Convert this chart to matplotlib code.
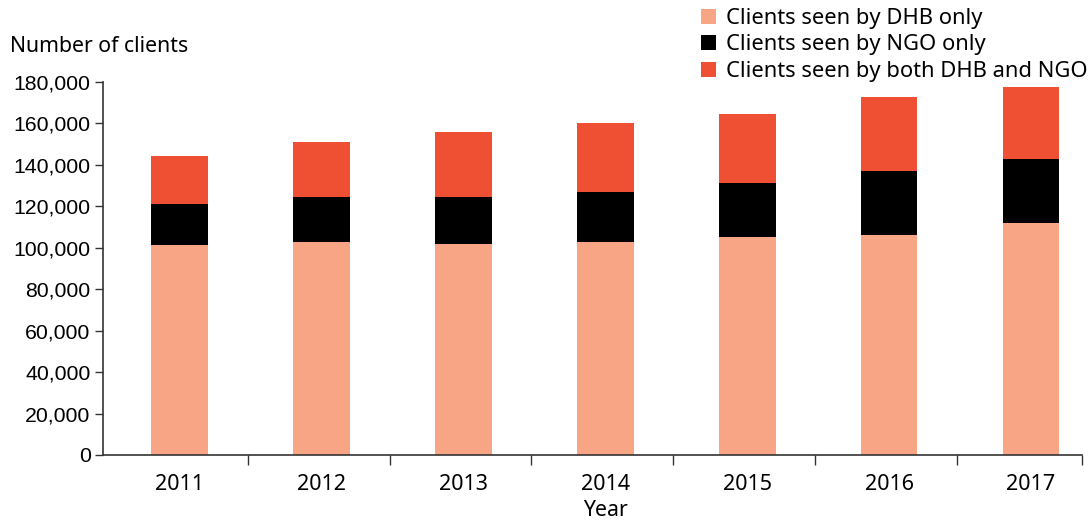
import matplotlib
matplotlib.use("Agg")
from matplotlib import pyplot as plt
from matplotlib.patches import Patch
from matplotlib.ticker import FuncFormatter

# datos
anios = ["2011", "2012", "2013", "2014", "2015", "2016", "2017"]
solo_dhb = [101400, 102800, 101800, 102800, 105200, 106200, 112000]
solo_ngo = [19900, 21700, 22700, 24100, 26100, 30900, 30900]
ambos = [23100, 26600, 31400, 33300, 33300, 35700, 34700]

etiquetas = ["Clients seen by DHB only", "Clients seen by NGO only",
             "Clients seen by both DHB and NGO"]
colores = ["#F7A584", "#000000", "#EF5033"]

fig = plt.figure(figsize=(10.92, 5.2), dpi=100)
ax = fig.add_axes([103 / 1092, 1 - 455 / 520, (1082 - 103) / 1092, (455 - 82) / 520])

x = list(range(len(anios)))
base2 = [a + b for a, b in zip(solo_dhb, solo_ngo)]
ax.bar(x, solo_dhb, width=0.4, color=colores[0])
ax.bar(x, solo_ngo, width=0.4, bottom=solo_dhb, color=colores[1])
ax.bar(x, ambos, width=0.4, bottom=base2, color=colores[2])

ax.set_xlim(-0.54, 6.36)
ax.set_ylim(0, 180000)
ax.set_yticks(range(0, 180001, 20000))
ax.yaxis.set_major_formatter(FuncFormatter(lambda v, p: f"{int(v):,}"))

ax.set_xticks(x)
ax.set_xticklabels(anios, fontfamily="Noto Sans", fontsize=15.5)
ax.set_xticks([i + 0.48 for i in range(6)] + [6.36], minor=True)
ax.tick_params(axis="x", which="major", length=0, pad=14)
ax.tick_params(axis="x", which="minor", length=7, width=1, color="#333333")
ax.tick_params(axis="y", length=6, width=1, color="#333333", labelsize=15.3, pad=3)
for t in ax.get_yticklabels():
    t.set_fontfamily("Liberation Sans")

for s in ["top", "right"]:
    ax.spines[s].set_visible(False)
for s in ["left", "bottom"]:
    ax.spines[s].set_color("#333333")
    ax.spines[s].set_linewidth(1.2)

fig.text(10 / 1092, 1 - 47 / 520, "Number of clients", fontfamily="Noto Sans",
         fontsize=15.3, va="center", ha="left")
fig.text(605 / 1092, 1 - 510 / 520, "Year", fontfamily="Noto Sans",
         fontsize=15.3, va="center", ha="center")

handles = [Patch(facecolor=c) for c in colores]
fig.legend(handles, etiquetas, loc="upper left", bbox_to_anchor=(701 / 1092, 1 - 8 / 520),
           frameon=False, prop={"family": "Noto Sans", "size": 15.8},
           handlelength=0.7, handleheight=0.7, handletextpad=0.45, labelspacing=0.25,
           borderaxespad=0, borderpad=0)

plt.savefig("out.png", dpi=100)
